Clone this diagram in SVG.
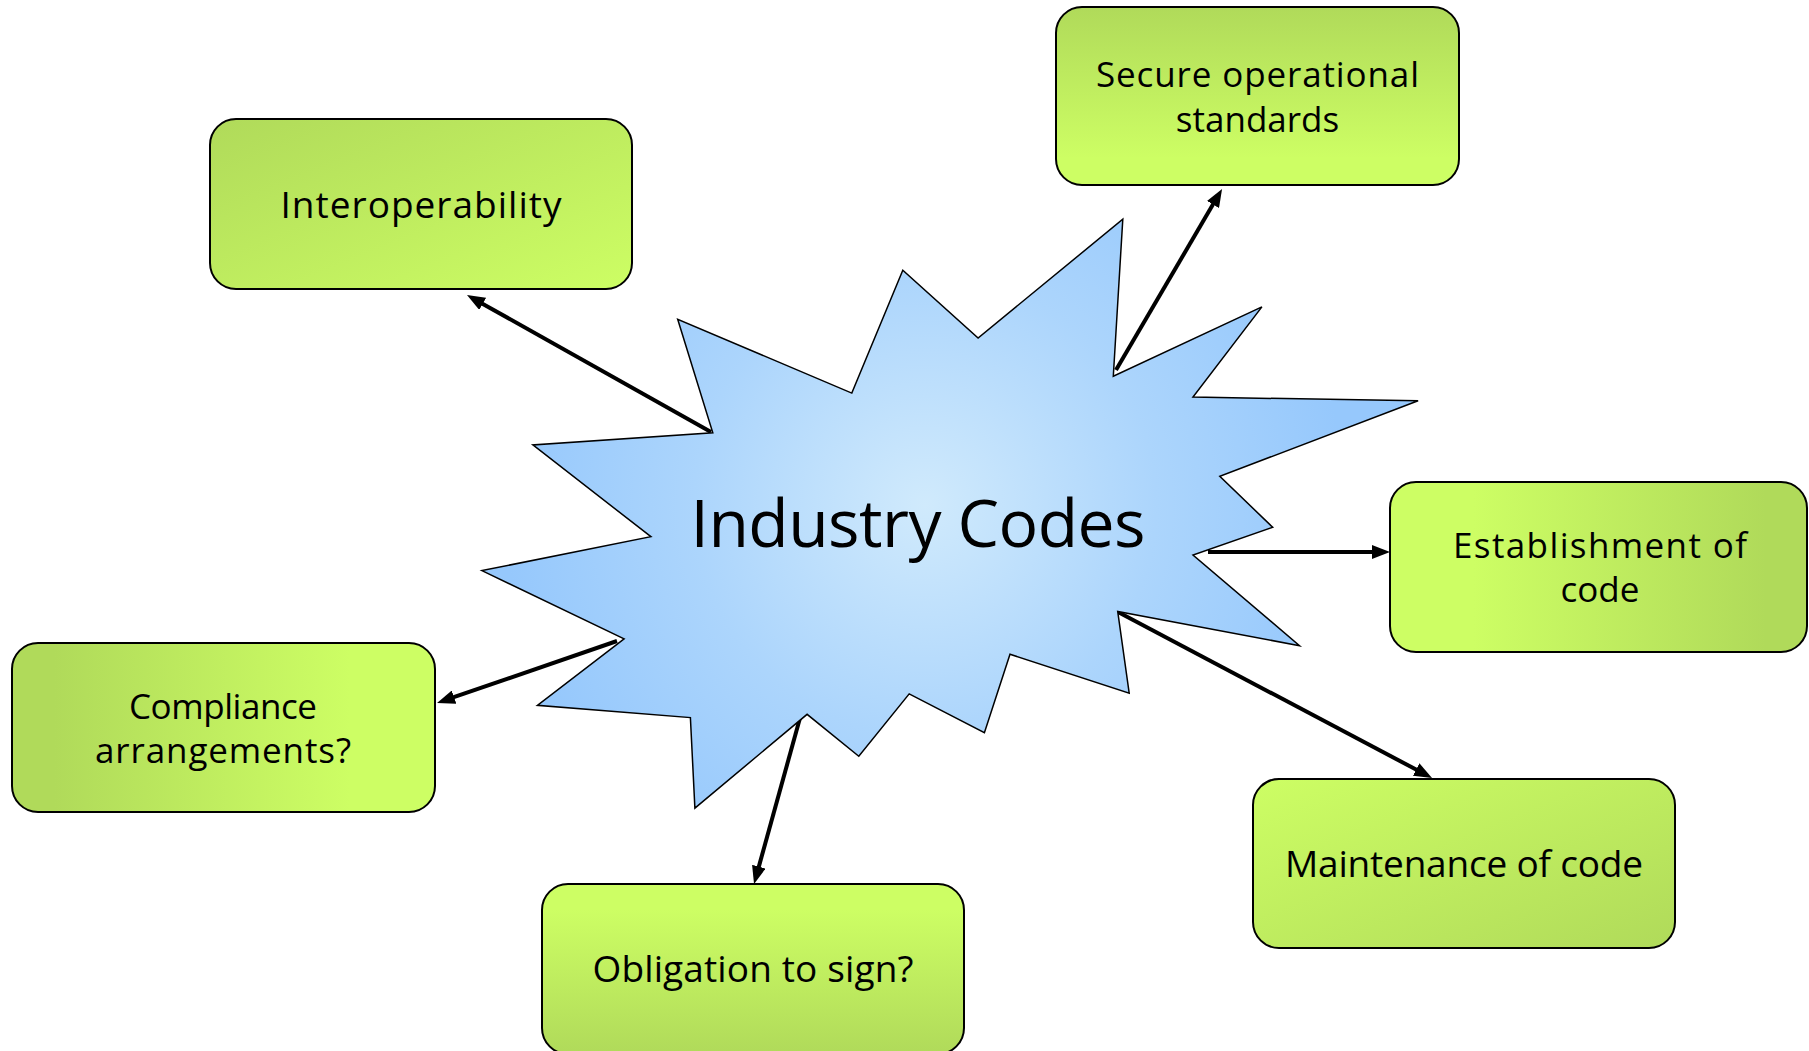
<svg xmlns="http://www.w3.org/2000/svg" width="1809" height="1051" viewBox="0 0 1809 1051">
<style>
.box{stroke:#000;stroke-width:2}
.lbl{font-family:"Comic Sans MS","Open Sans","DejaVu Sans",sans-serif;font-size:37px;fill:#000;text-anchor:middle}
.lbl2{font-family:"Comic Sans MS","Open Sans","DejaVu Sans",sans-serif;font-size:35px;fill:#000;text-anchor:middle}
.title{font-family:"Comic Sans MS","Open Sans","DejaVu Sans",sans-serif;font-size:66px;fill:#000;text-anchor:middle}
.conn{stroke:#000;stroke-width:4;fill:none;marker-end:url(#arr)}
</style>
<defs>
<marker id="arr" markerUnits="userSpaceOnUse" viewBox="0 -7 18 14" markerWidth="18" markerHeight="14" refX="8" refY="0" orient="auto">
<path d="M0,-7 L18,0 L0,7 z" fill="#000"/>
</marker>
<radialGradient id="star" gradientUnits="userSpaceOnUse" cx="925" cy="505" r="420">
<stop offset="0" stop-color="#d0eafc"/>
<stop offset="0.55" stop-color="#acd5fc"/>
<stop offset="1" stop-color="#96c8fc"/>
</radialGradient>
<linearGradient id="gDiagDL" x1="0" y1="0" x2="1" y2="1"><stop offset="0" stop-color="#b0da5a"/><stop offset="1" stop-color="#cdfe64"/></linearGradient>
<linearGradient id="gDiagLD" x1="0" y1="0" x2="1" y2="1"><stop offset="0" stop-color="#cdfe64"/><stop offset="1" stop-color="#b0da5a"/></linearGradient>
<linearGradient id="gVertDL" x1="0" y1="0" x2="0" y2="1"><stop offset="0" stop-color="#b0da5a"/><stop offset="0.85" stop-color="#cdfe64"/></linearGradient>
<linearGradient id="gVertLD" x1="0" y1="0" x2="0" y2="1"><stop offset="0.15" stop-color="#cdfe64"/><stop offset="1" stop-color="#b0da5a"/></linearGradient>
<linearGradient id="gHorDL" x1="0" y1="0" x2="1" y2="0"><stop offset="0.1" stop-color="#b0da5a"/><stop offset="0.8" stop-color="#cdfe64"/></linearGradient>
<linearGradient id="gHorLD" x1="0" y1="0" x2="1" y2="0"><stop offset="0.2" stop-color="#cdfe64"/><stop offset="0.9" stop-color="#b0da5a"/></linearGradient>
</defs>
<rect width="1809" height="1051" fill="#fff"/>

<g id="connectors">
<line class="conn" x1="711" y1="432" x2="475.7" y2="299.9"/>
<line class="conn" x1="1116" y1="370" x2="1217" y2="197.6"/>
<line class="conn" x1="1208" y1="552" x2="1380" y2="552"/>
<line class="conn" x1="1118" y1="612" x2="1423.2" y2="773.3"/>
<line class="conn" x1="800" y1="718" x2="756.7" y2="874.4"/>
<line class="conn" x1="617" y1="641" x2="446.5" y2="699.7"/>
</g>

<g id="industry-codes">
<polygon fill="url(#star)" stroke="#000" stroke-width="1.5" points="1122.8,219.2 1113.3,376.3 1261.9,306.9 1193,397.1 1418.1,400.8 1219.8,476.3 1272.7,527.3 1193,555.1 1299.5,645.7 1117.7,611.4 1129.2,693.1 1010,654.3 984.4,732.7 909.2,693.9 858.8,756.3 807.1,714.3 694.9,808.2 690.4,717.6 537.4,705.3 624.1,638.8 481.9,570.6 650.9,536.7 532.9,444.9 712.8,432.7 677.7,319.2 851.8,393.1 902.8,270.2 978.1,338"/>
<text class="title" x="918" y="547" textLength="455">Industry Codes</text>
</g>

<g id="interoperability">
<rect class="box" x="210" y="119" width="422" height="170" rx="26" ry="26" fill="url(#gDiagDL)"/>
<text class="lbl" x="421" y="218" textLength="281">Interoperability</text>
</g>

<g id="secure-operational-standards">
<rect class="box" x="1056" y="7" width="403" height="178" rx="26" ry="26" fill="url(#gVertDL)"/>
<text class="lbl2" x="1257.5" y="87" textLength="323">Secure operational</text>
<text class="lbl2" x="1257.5" y="131.5">standards</text>
</g>

<g id="establishment-of-code">
<rect class="box" x="1390" y="482" width="417" height="170" rx="26" ry="26" fill="url(#gHorLD)"/>
<text class="lbl2" x="1600" y="558" textLength="294">Establishment of</text>
<text class="lbl2" x="1600" y="602">code</text>
</g>

<g id="maintenance-of-code">
<rect class="box" x="1253" y="779" width="422" height="169" rx="26" ry="26" fill="url(#gDiagLD)"/>
<text class="lbl" x="1464" y="877" textLength="358">Maintenance of code</text>
</g>

<g id="obligation-to-sign">
<rect class="box" x="542" y="884" width="422" height="170" rx="26" ry="26" fill="url(#gVertLD)"/>
<text class="lbl" x="753" y="982" textLength="321">Obligation to sign?</text>
</g>

<g id="compliance-arrangements">
<rect class="box" x="12" y="643" width="423" height="169" rx="26" ry="26" fill="url(#gHorDL)"/>
<text class="lbl2" x="223" y="719" textLength="188">Compliance</text>
<text class="lbl2" x="223" y="763" textLength="256">arrangements?</text>
</g>
</svg>
